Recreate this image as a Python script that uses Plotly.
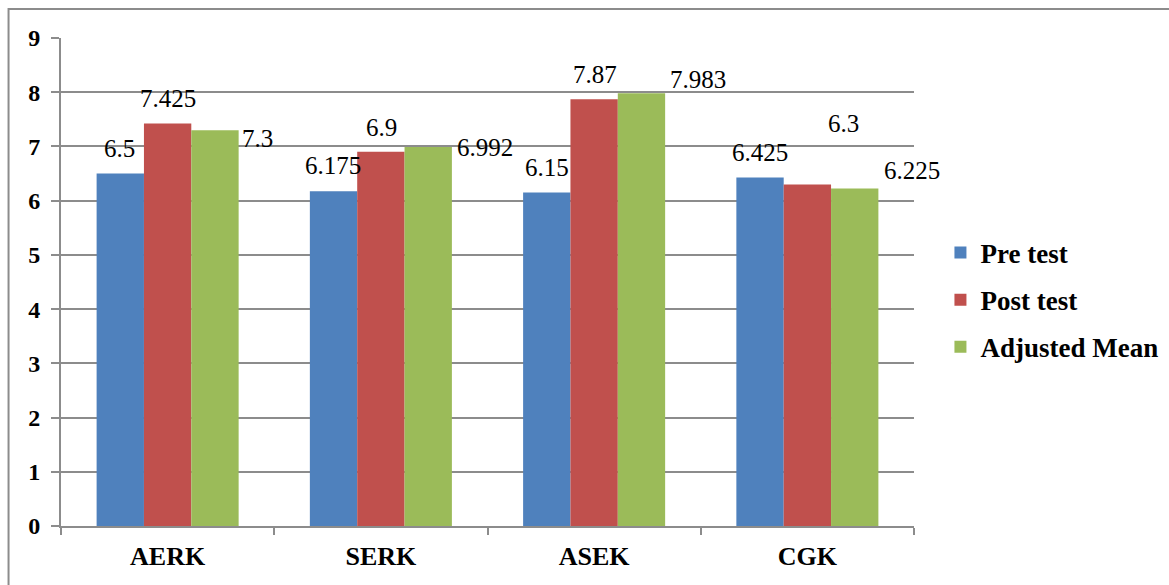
import plotly.graph_objects as go

# Group means per training group
groups = ["AERK", "SERK", "ASEK", "CGK"]
pre_test = [6.5, 6.175, 6.15, 6.425]
post_test = [7.425, 6.9, 7.87, 6.3]
adjusted_mean = [7.3, 6.992, 7.983, 6.225]

series_names = ["Pre test", "Post test", "Adjusted Mean"]
series_colors = ["#4F81BD", "#C0504D", "#9BBB59"]
series_values = [pre_test, post_test, adjusted_mean]

# Pixel offsets of each value label from the group centre / bar top
label_dx = [
    [-48, -48, -47, -47],
    [0, 1, 1, 36],
    [90, 104, 104, 105],
]
label_dy = [
    [25, 26, 25, 25],
    [25, 24, 25, 61],
    [-8, -1, 14, 18],
]

serif = "Liberation Serif"
grid_color = "#8C8C8C"

fig = go.Figure()
for i, (name, color, vals) in enumerate(zip(series_names, series_colors, series_values)):
    fig.add_trace(go.Bar(
        x=groups, y=vals, name=name, legendgroup=name,
        marker=dict(color=color, line=dict(width=0)),
    ))

annotations = []
for i, vals in enumerate(series_values):
    for j, v in enumerate(vals):
        annotations.append(dict(
            x=groups[j], y=v, xref="x", yref="y",
            text=f"{v:g}", showarrow=False,
            xshift=label_dx[i][j], yshift=label_dy[i][j],
            xanchor="center", yanchor="middle",
            font=dict(family=serif, size=25, color="#000000"),
        ))

fig.update_layout(
    width=1169, height=585,
    margin=dict(l=61, r=255, t=38, b=59, autoexpand=False),
    paper_bgcolor="white", plot_bgcolor="white",
    barmode="group", bargap=0.334, bargroupgap=0,
    showlegend=True,
    font=dict(family=serif, color="#000000"),
    legend=dict(
        x=1.031, xanchor="left", y=0.463, yanchor="middle",
        font=dict(family=serif, size=27, color="#000000", weight="bold"),
        tracegroupgap=9, bgcolor="rgba(0,0,0,0)",
        itemwidth=30,
    ),
    annotations=annotations,
    shapes=[dict(
        type="rect", xref="paper", yref="paper",
        x0=-0.0615, x1=1.31, y0=-0.15, y1=1.0594,
        line=dict(color="#8C8C8C", width=2), fillcolor="rgba(0,0,0,0)",
        layer="below",
    )],
)

fig.update_xaxes(
    type="category", range=[-0.5, len(groups) - 0.5], autorange=False,
    showline=True, linecolor=grid_color, linewidth=2,
    ticks="outside", ticklen=7, tickwidth=2, tickcolor=grid_color,
    tickson="boundaries",
    showgrid=False,
    tickfont=dict(family=serif, size=26, color="#000000", weight="bold"),
    ticklabelstandoff=6,
)
fig.update_yaxes(
    range=[0, 9], autorange=False, dtick=1,
    showline=True, linecolor=grid_color, linewidth=2,
    ticks="outside", ticklen=8, tickwidth=2, tickcolor=grid_color,
    showgrid=True, gridcolor=grid_color, gridwidth=2,
    zeroline=False,
    tickfont=dict(family=serif, size=24, color="#000000", weight="bold"),
    ticklabelstandoff=6,
)

fig.write_html("out.html")
